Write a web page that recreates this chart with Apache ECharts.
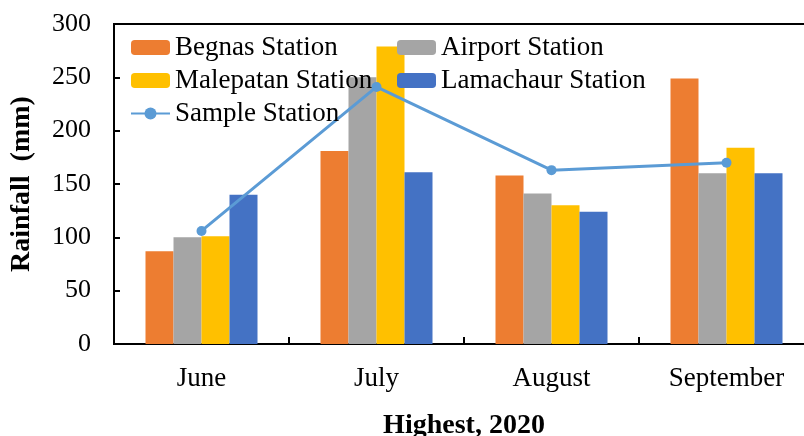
<!DOCTYPE html>
<html>
<head>
<meta charset="utf-8">
<script src="https://cdn.jsdelivr.net/npm/echarts@6/dist/echarts.min.js"></script>
<style>
  html, body { margin: 0; padding: 0; background: #fff; }
  #chart { width: 804px; height: 436px; }
</style>
</head>
<body>
<div id="chart"></div>
<script>
  let months = ["June", "July", "August", "September"]
  let begnas = [87, 181, 158, 249]
  let airport = [100, 250, 141, 160]
  let malepatan = [101, 279, 130, 184]
  let lamachaur = [140, 161, 124, 160]
  let sample = [106, 241, 163, 170]

  let font = "Liberation Serif"
  let legendText = {
    fontFamily: font, fontSize: 27, color: "#000", lineHeight: 27,
    rich: {t: {fontFamily: font, fontSize: 27, color: "#000", lineHeight: 27}}
  }

  function bar(name, data, color) {
    return {
      name: name,
      type: "bar",
      barWidth: 28,
      barGap: "0%",
      itemStyle: {color: color},
      data: data
    }
  }

  let myChart = echarts.init(document.getElementById("chart"))
  myChart.setOption({
    animation: false,
    textStyle: {fontFamily: font},
    grid: {
      left: 114,
      top: 24,
      right: -10,
      bottom: 92,
      outerBoundsMode: "none",
      containLabel: false,
      show: true,
      borderColor: "#000",
      borderWidth: 2
    },
    legend: [
      {
        orient: "vertical",
        left: 125,
        top: 29,
        itemWidth: 39,
        itemHeight: 15,
        itemGap: 6,
        formatter: "{t|{name}}",
        textStyle: legendText,
        data: ["Begnas Station", "Malepatan Station", "Sample Station"]
      },
      {
        orient: "vertical",
        left: 392,
        top: 29,
        itemWidth: 39,
        itemHeight: 15,
        itemGap: 6,
        formatter: "{t|{name}}",
        textStyle: legendText,
        data: ["Airport Station", "Lamachaur Station"]
      }
    ],
    xAxis: {
      type: "category",
      data: months,
      name: "Highest, 2020",
      nameLocation: "middle",
      nameGap: 68,
      nameTextStyle: {fontFamily: font, fontSize: 28, fontWeight: "bold", color: "#000"},
      axisLine: {lineStyle: {color: "#000", width: 2}},
      axisTick: {show: true, inside: true, length: 7, lineStyle: {color: "#000", width: 2}},
      axisLabel: {fontFamily: font, fontSize: 27, color: "#000", margin: 21}
    },
    yAxis: {
      type: "value",
      min: 0,
      max: 300,
      interval: 50,
      name: "Rainfall  (mm)",
      nameLocation: "middle",
      nameGap: 78,
      nameMoveOverlap: false,
      nameTextStyle: {fontFamily: font, fontSize: 28, fontWeight: "bold", color: "#000"},
      axisLine: {show: true, lineStyle: {color: "#000", width: 2}},
      axisTick: {show: true, inside: true, length: 6, lineStyle: {color: "#000", width: 2}},
      axisLabel: {fontFamily: font, fontSize: 26, color: "#000", margin: 23},
      splitLine: {show: false}
    },
    series: [
      bar("Begnas Station", begnas, "#ED7D31"),
      bar("Airport Station", airport, "#A5A5A5"),
      bar("Malepatan Station", malepatan, "#FFC000"),
      bar("Lamachaur Station", lamachaur, "#4472C4"),
      {
        name: "Sample Station",
        type: "line",
        symbol: "circle",
        symbolSize: 10,
        itemStyle: {color: "#5B9BD5"},
        lineStyle: {color: "#5B9BD5", width: 3},
        data: sample
      }
    ]
  })
</script>
</body>
</html>
